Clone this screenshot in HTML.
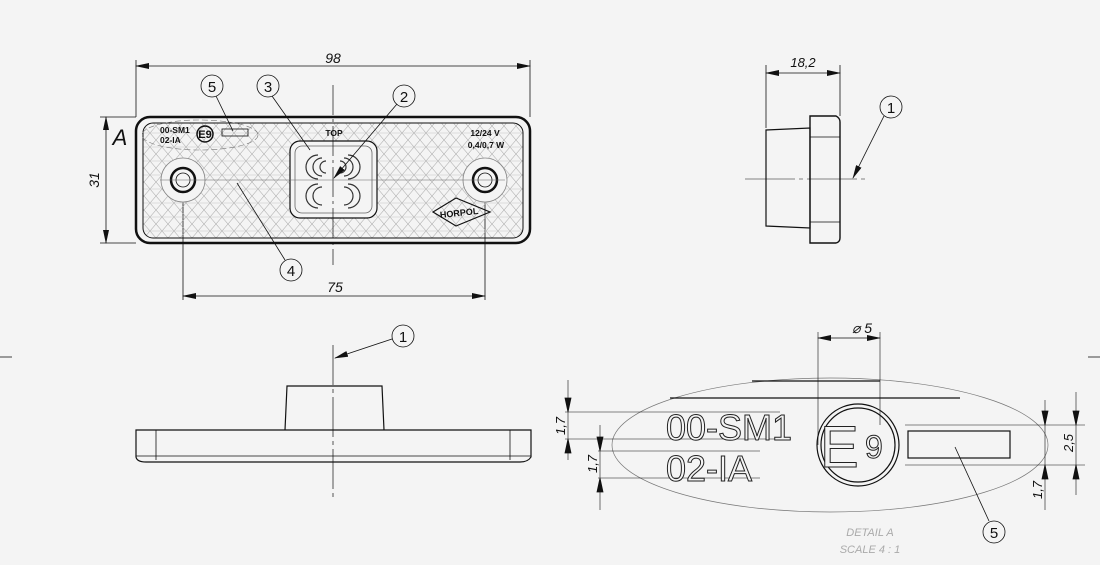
<!DOCTYPE html>
<html><head><meta charset="utf-8"><style>
html,body{margin:0;padding:0;background:#f4f4f4;}
svg{display:block;}
text{font-family:"Liberation Sans",sans-serif;}
</style></head><body>
<svg width="1100" height="565" viewBox="0 0 1100 565" xmlns="http://www.w3.org/2000/svg">
<defs>
<marker id="ar" markerWidth="14" markerHeight="6" refX="13" refY="3" orient="auto" markerUnits="userSpaceOnUse"><path d="M0,0 L14,3 L0,6 z" fill="#111"/></marker>
<marker id="al" markerWidth="14" markerHeight="6" refX="1" refY="3" orient="auto" markerUnits="userSpaceOnUse"><path d="M14,0 L0,3 L14,6 z" fill="#111"/></marker>
<pattern id="hx" width="24" height="14" patternUnits="userSpaceOnUse">
<path d="M0,0 L12,14 M12,0 L24,14 M12,0 L0,14 M24,0 L12,14 M-12,0 L0,14" stroke="#aaa" stroke-width="0.55" fill="none"/>
<path d="M0,7 H24" stroke="#c4c4c4" stroke-width="0.5"/>
</pattern>
</defs>
<rect width="1100" height="565" fill="#f4f4f4"/>
<g stroke="#111" fill="none" stroke-width="0.8">
<line x1="0" y1="357" x2="12" y2="357"/><line x1="1088" y1="357" x2="1100" y2="357"/>
<line x1="136" y1="60" x2="136" y2="117"/><line x1="530" y1="60" x2="530" y2="117"/>
<line x1="136" y1="66" x2="530" y2="66" marker-start="url(#al)" marker-end="url(#ar)"/>
<line x1="100" y1="117" x2="136" y2="117"/><line x1="100" y1="243" x2="136" y2="243"/>
<line x1="106" y1="117" x2="106" y2="243" marker-start="url(#al)" marker-end="url(#ar)"/>
<line x1="183" y1="180" x2="183" y2="300"/><line x1="485" y1="180" x2="485" y2="300"/>
<line x1="183" y1="296" x2="485" y2="296" marker-start="url(#al)" marker-end="url(#ar)"/>
<rect x="143" y="123" width="380" height="115" rx="10" fill="url(#hx)" stroke="none"/>
<rect x="136" y="117" width="394" height="126" rx="14" stroke-width="2.5"/>
<rect x="143" y="123" width="380" height="115" rx="10" stroke-width="1"/>
<circle cx="183" cy="180" r="22" fill="#f4f4f4" stroke="#888"/>
<circle cx="183" cy="180" r="12" stroke-width="2.5"/>
<circle cx="183" cy="180" r="7"/>
<circle cx="485" cy="180" r="22" fill="#f4f4f4" stroke="#888"/>
<circle cx="485" cy="180" r="12" stroke-width="2.5"/>
<circle cx="485" cy="180" r="7"/>
<rect x="290" y="141" width="87" height="77" rx="10" fill="#f4f4f4" stroke-width="1.2"/>
<rect x="295" y="146" width="77" height="67" rx="7" stroke="#666"/>
<g stroke="#333" stroke-width="1.2">
<path d="M318,155 a12,12 0 0 0 0,24 M322,158 a8,8 0 0 0 0,18 M326,161 a5,5 0 0 0 0,12"/>
<path d="M348,155 a12,12 0 0 1 0,24 M344,158 a8,8 0 0 1 0,18 M340,161 a5,5 0 0 1 0,12"/>
<path d="M318,184 a12,12 0 0 0 0,24 M322,187 a8,8 0 0 0 0,18"/>
<path d="M348,184 a12,12 0 0 1 0,24 M344,187 a8,8 0 0 1 0,18"/>
</g>
<line x1="333" y1="85" x2="333" y2="265" stroke-dasharray="30,4,3,4" stroke-width="0.7"/>
<line x1="160" y1="180" x2="505" y2="180" stroke="#666" stroke-width="0.5"/>
<ellipse cx="200" cy="135" rx="58" ry="15" stroke="#777" stroke-dasharray="6,3" stroke-width="0.6"/>
<circle cx="205" cy="134" r="8" stroke-width="1.5"/>
<rect x="222" y="129" width="26" height="7"/>
<path d="M433,212 L456,198 L490,212 L456,226 Z" stroke-width="1.2"/>
<circle cx="212" cy="86" r="11"/><circle cx="268" cy="86" r="11"/><circle cx="404" cy="96" r="11"/><circle cx="291" cy="270" r="11"/>
<line x1="216" y1="96" x2="233" y2="131"/>
<line x1="272" y1="96" x2="310" y2="150"/>
<line x1="397" y1="104" x2="334" y2="178" marker-end="url(#ar)"/>
<line x1="285" y1="260" x2="237" y2="183"/>
<line x1="766" y1="65" x2="766" y2="128"/><line x1="840" y1="65" x2="840" y2="116"/>
<line x1="766" y1="73" x2="840" y2="73" marker-start="url(#al)" marker-end="url(#ar)"/>
<path d="M766,130 L810,128 L810,228 L766,226 Z" stroke-width="1.2"/>
<path d="M810,116 L836,116 Q840,118 840,122 L840,238 Q840,242 836,243 L810,243 Z" stroke-width="1.4"/>
<line x1="810" y1="137" x2="840" y2="137"/><line x1="810" y1="222" x2="840" y2="222"/>
<line x1="745" y1="179" x2="866" y2="179" stroke-dasharray="50,4,4,4" stroke-width="0.6"/>
<circle cx="891" cy="107" r="11"/>
<line x1="884" y1="116" x2="853" y2="178" marker-end="url(#ar)"/>
<path d="M136,430 L531,430 L531,457 Q528,462 520,462 L146,462 Q137,462 136,457 Z" stroke-width="1.2"/>
<line x1="156" y1="430" x2="156" y2="460"/><line x1="510" y1="430" x2="510" y2="460"/>
<line x1="136" y1="456" x2="531" y2="456"/>
<path d="M285,430 L287,386 L382,386 L384,430" stroke-width="1.2"/>
<line x1="333" y1="345" x2="333" y2="500" stroke-dasharray="40,4,4,4" stroke-width="0.7"/>
<circle cx="403" cy="336" r="11"/>
<line x1="392" y1="339" x2="335" y2="358" marker-end="url(#ar)"/>
<ellipse cx="830" cy="445" rx="218" ry="67" stroke="#777" stroke-width="0.7"/>
<line x1="752" y1="381" x2="880" y2="381" stroke-width="1.2"/>
<line x1="670" y1="398" x2="960" y2="398" stroke-width="1.2"/>
<line x1="818" y1="332" x2="818" y2="445" stroke-width="0.6"/><line x1="880" y1="332" x2="880" y2="425" stroke-width="0.6"/>
<line x1="818" y1="338" x2="880" y2="338" marker-start="url(#al)" marker-end="url(#ar)"/>
<g stroke-width="0.6">
<line x1="565" y1="412" x2="780" y2="412"/><line x1="565" y1="439" x2="780" y2="439"/>
<line x1="598" y1="451" x2="760" y2="451"/><line x1="598" y1="478" x2="760" y2="478"/>
<line x1="568" y1="380" x2="568" y2="460"/>
<line x1="600" y1="425" x2="600" y2="510"/>
<line x1="905" y1="425" x2="1085" y2="425"/><line x1="905" y1="465" x2="1085" y2="465"/>
<line x1="1076" y1="392" x2="1076" y2="495"/>
<line x1="1045" y1="400" x2="1045" y2="510"/>
</g>
<path d="M565,398 L568,412 L571,398 Z M565,453 L568,439 L571,453 Z M597,437 L600,451 L603,437 Z M597,492 L600,478 L603,492 Z M1073,411 L1076,425 L1079,411 Z M1073,479 L1076,465 L1079,479 Z M1042,411 L1045,425 L1048,411 Z M1042,479 L1045,465 L1048,479 Z" fill="#111"/>
<circle cx="858" cy="445" r="41" stroke-width="1.2"/><circle cx="858" cy="445" r="37" stroke-width="1.2"/>
<rect x="908" y="431" width="102" height="27" stroke-width="1.2"/>
<circle cx="994" cy="532" r="11"/>
<line x1="955" y1="447" x2="989" y2="521"/>
</g>
<g fill="#111">
<text x="333" y="63" font-size="14" font-style="italic" text-anchor="middle">98</text>
<text x="335" y="292" font-size="14" font-style="italic" text-anchor="middle">75</text>
<text x="120" y="145" font-size="22" font-style="italic" text-anchor="middle">A</text>
<text transform="translate(99,180) rotate(-90)" font-size="14" font-style="italic" text-anchor="middle">31</text>
<text x="160" y="133" font-size="8.5" font-weight="bold">00-SM1</text>
<text x="160" y="143" font-size="8.5" font-weight="bold">02-IA</text>
<text x="205" y="138" font-size="11" font-weight="bold" text-anchor="middle">E9</text>
<text x="334" y="136" font-size="8.5" font-weight="bold" text-anchor="middle">TOP</text>
<text x="485" y="136" font-size="8.5" font-weight="bold" text-anchor="middle">12/24 V</text>
<text x="486" y="148" font-size="8.5" font-weight="bold" text-anchor="middle">0,4/0,7 W</text>
<text x="459" y="216" font-size="9" font-weight="bold" text-anchor="middle" transform="rotate(-6 459 212)">HORPOL</text>
<text x="212" y="92" font-size="15" text-anchor="middle">5</text>
<text x="268" y="92" font-size="15" text-anchor="middle">3</text>
<text x="404" y="102" font-size="15" text-anchor="middle">2</text>
<text x="291" y="276" font-size="15" text-anchor="middle">4</text>
<text x="803" y="67" font-size="13" font-style="italic" text-anchor="middle">18,2</text>
<text x="891" y="113" font-size="15" text-anchor="middle">1</text>
<text x="403" y="342" font-size="15" text-anchor="middle">1</text>
<text x="994" y="538" font-size="15" text-anchor="middle">5</text>
<text x="862" y="333" font-size="14" font-style="italic" text-anchor="middle">⌀ 5</text>
<text transform="translate(565,426) rotate(-90)" font-size="13" font-style="italic" text-anchor="middle">1,7</text>
<text transform="translate(597,464) rotate(-90)" font-size="13" font-style="italic" text-anchor="middle">1,7</text>
<text transform="translate(1073,443) rotate(-90)" font-size="13" font-style="italic" text-anchor="middle">2,5</text>
<text transform="translate(1042,490) rotate(-90)" font-size="13" font-style="italic" text-anchor="middle">1,7</text>
<text x="870" y="536" font-size="11" font-style="italic" fill="#aaa" text-anchor="middle">DETAIL A</text>
<text x="870" y="553" font-size="11" font-style="italic" fill="#aaa" text-anchor="middle">SCALE 4 : 1</text>
</g>
<g fill="#f4f4f4" stroke="#222" stroke-width="1">
<text x="666" y="440" font-size="36">00-SM1</text>
<text x="666" y="481" font-size="36">02-IA</text>
<text x="820" y="467" font-size="58">E</text>
<text x="865" y="458" font-size="32">9</text>
</g>
</svg>
</body></html>
